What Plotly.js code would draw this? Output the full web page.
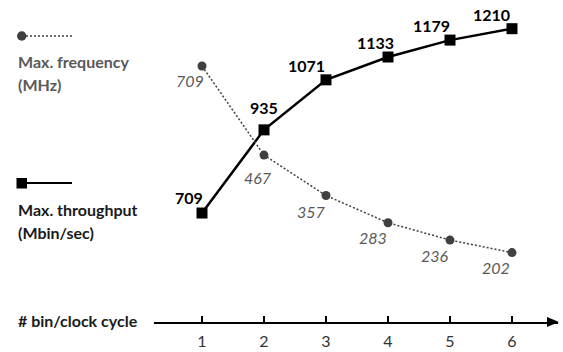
<!DOCTYPE html>
<html>
<head>
<meta charset="utf-8">
<script src="https://cdn.plot.ly/plotly-3.0.1.min.js"></script>
<style>html,body{margin:0;padding:0;background:#fff;}#chart{width:563px;height:352px;}</style>
</head>
<body>
<div id="chart"></div>
<script>
// ---- data ----
const binsPerCycle = [1, 2, 3, 4, 5, 6];
const tickLabels = ['1', '2', '3', '4', '5', '6'];
const maxThroughput = [709, 935, 1071, 1133, 1179, 1210];   // Mbin/sec
const maxFrequency = [709, 467, 357, 283, 236, 202];        // MHz

// ---- label offsets (pixels, style only) ----
const thrLabelDx = [-13, 0, -20, -13, -19, -21];
const thrLabelDy = [16, 22, 14, 15, 15, 14];
const frqLabelDx = [-12, -6, -15, -15, -15, -16];
const frqLabelDy = [-14, -22, -16, -15, -15, -15];

const W = 563, H = 352;
const M = {l: 154, r: 5, t: 10, b: 30};
const PW = W - M.l - M.r, PH = H - M.t - M.b;
const px = v => (v - M.l) / PW;
const py = v => (H - M.b - v) / PH;

const FONT = 'Lato, "Open Sans", sans-serif';
const GREY = '#595959';
const DARK = '#1a1a1a';

const traces = [
  {
    x: binsPerCycle, y: maxFrequency, yaxis: 'y2', type: 'scatter', mode: 'lines+markers',
    line: {color: '#404040', width: 1.5, dash: '2px,2px'},
    marker: {symbol: 'circle', size: 9, color: '#404040'},
    hoverinfo: 'skip', showlegend: false
  },
  {
    x: binsPerCycle, y: maxThroughput, type: 'scatter', mode: 'lines+markers',
    line: {color: '#000', width: 2.5},
    marker: {symbol: 'square', size: 11, color: '#000'},
    hoverinfo: 'skip', showlegend: false
  }
];

const annotations = [];
maxThroughput.forEach((v, i) => annotations.push({
  x: binsPerCycle[i], y: v, xref: 'x', yref: 'y', text: String(v), showarrow: false,
  xshift: thrLabelDx[i], yshift: thrLabelDy[i],
  font: {family: FONT, size: 16, color: '#000', weight: 'bold'}
}));
maxFrequency.forEach((v, i) => annotations.push({
  x: binsPerCycle[i], y: v, xref: 'x', yref: 'y2', text: '<i>' + v + '</i>', showarrow: false,
  xshift: frqLabelDx[i], yshift: frqLabelDy[i],
  font: {family: FONT, size: 16, color: GREY}
}));
// legend texts
const legendText = [
  ['Max. frequency', 62, GREY], ['(MHz)', 84, GREY],
  ['Max. throughput', 209, DARK], ['(Mbin/sec)', 232, DARK],
  ['# bin/clock cycle', 320, DARK]
];
legendText.forEach(t => annotations.push({
  x: px(16), y: py(t[1]), xref: 'paper', yref: 'paper', xanchor: 'left', yanchor: 'middle',
  text: '<b>' + t[0] + '</b>', showarrow: false,
  font: {family: FONT, size: 16, color: t[2]}
}));

const shapes = [
  // legend: frequency
  {type: 'line', xref: 'paper', yref: 'paper', x0: px(22), x1: px(72), y0: py(36), y1: py(36),
   line: {color: '#404040', width: 1.5, dash: '2px,2px'}},
  {type: 'circle', xref: 'paper', yref: 'paper', x0: px(17), x1: px(26.5), y0: py(31.3), y1: py(40.7),
   fillcolor: '#404040', line: {width: 0}},
  // legend: throughput
  {type: 'line', xref: 'paper', yref: 'paper', x0: px(22), x1: px(72), y0: py(183), y1: py(183),
   line: {color: '#000', width: 2}},
  {type: 'rect', xref: 'paper', yref: 'paper', x0: px(16.5), x1: px(27), y0: py(178), y1: py(188.5),
   fillcolor: '#000', line: {width: 0}},
  // axis arrowhead
  {type: 'path', xref: 'paper', yref: 'paper',
   path: `M ${px(547)} ${py(317)} L ${px(559)} ${py(322)} L ${px(547)} ${py(327)} Z`,
   fillcolor: '#000', line: {width: 0}}
];

const layout = {
  width: W, height: H,
  margin: M,
  paper_bgcolor: '#fff', plot_bgcolor: '#fff',
  showlegend: false,
  xaxis: {
    range: [0.2258, 6.742], tickvals: binsPerCycle, ticktext: tickLabels,
    showgrid: false, zeroline: false, showline: true, linecolor: '#000', linewidth: 1.5,
    ticks: 'inside', ticklen: 6, tickwidth: 1.5, tickcolor: '#000',
    tickfont: {family: FONT, size: 16, color: '#333'}, ticklabelstandoff: 4,
    fixedrange: true
  },
  yaxis: {range: [412.8, 1260.8], visible: false, fixedrange: true},
  yaxis2: {range: [13.3, 861.3], visible: false, overlaying: 'y', fixedrange: true},
  annotations: annotations,
  shapes: shapes
};

Plotly.newPlot('chart', traces, layout, {displayModeBar: false, staticPlot: true});
</script>
</body>
</html>
